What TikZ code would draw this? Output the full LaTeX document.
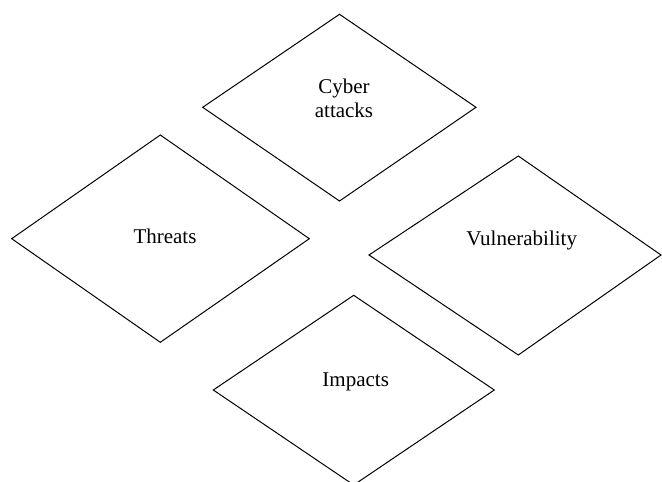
\documentclass[tikz,border=0pt]{standalone}
\usepackage{fontspec}
\setmainfont{Liberation Serif}
\begin{document}
\begin{tikzpicture}[x=1pt,y=-1pt,
  rhombus/.style={draw=black,line width=1pt,line join=miter},
  label/.style={font=\fontsize{21}{24}\selectfont,align=center,inner sep=0pt}]
\useasboundingbox (0,0) rectangle (662,482);
% four rhombi, given by top, right, bottom and left corners
\draw[rhombus] (339.5,14.3) -- (476,107.3) -- (339.5,201) -- (202.7,107.3) -- cycle;
\draw[rhombus] (160.3,135) -- (309.3,238.7) -- (160.3,342.3) -- (11.7,238.7) -- cycle;
\draw[rhombus] (518.3,156) -- (661,255) -- (518.3,355) -- (369,255) -- cycle;
\draw[rhombus] (353.7,295.3) -- (494.3,390) -- (353.7,485) -- (213.3,390) -- cycle;
% labels
\node[label] (cyber) at (344,98) {Cyber\\attacks};
\node[label] (threats) at (165,236) {Threats};
\node[label] (vuln) at (521.7,240) {Vulnerability};
\node[label] (impacts) at (355.7,381.7) {Impacts};
\end{tikzpicture}
\end{document}
